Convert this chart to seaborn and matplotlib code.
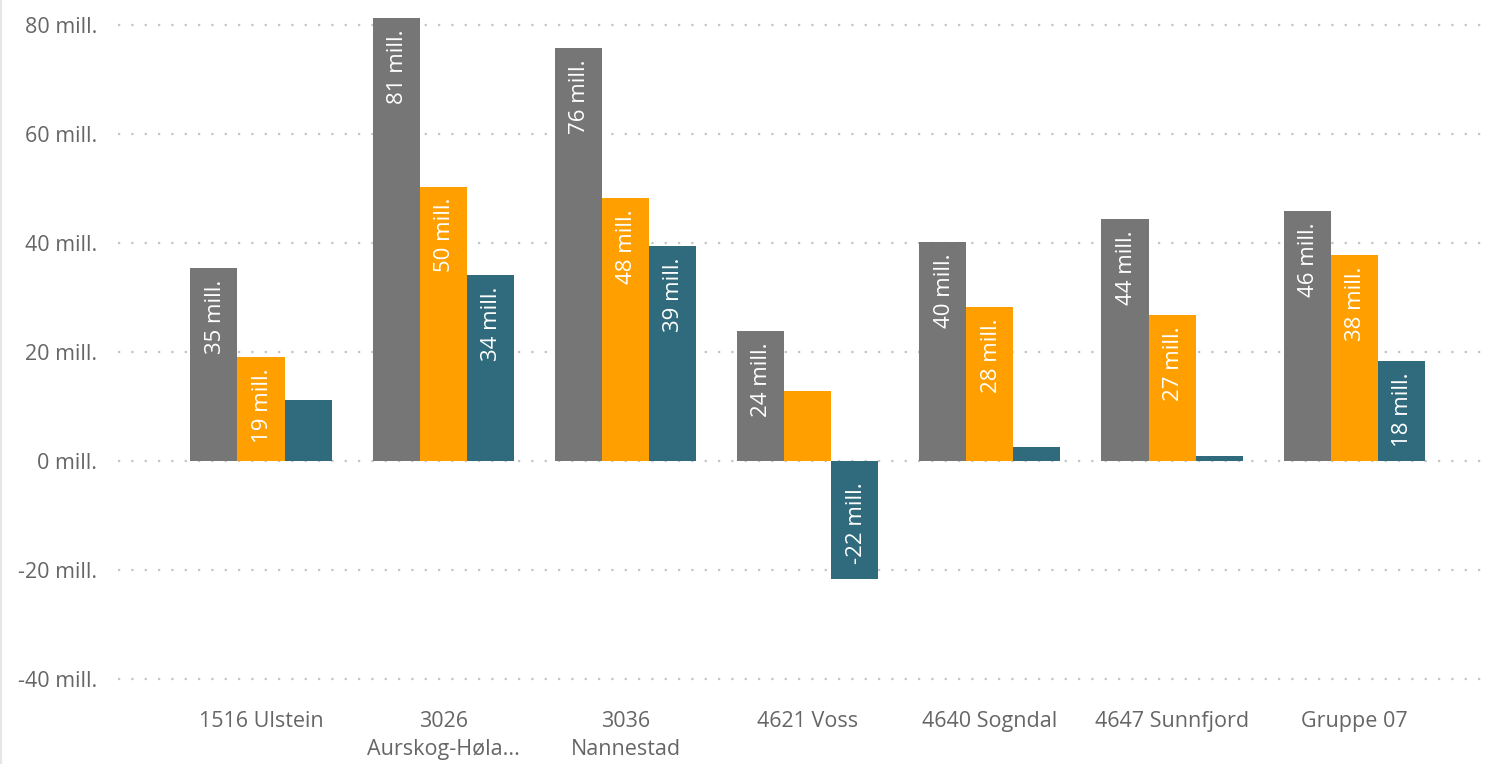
import matplotlib
matplotlib.use("Agg")
import matplotlib.pyplot as plt
import pandas as pd
import seaborn as sns
from matplotlib.lines import Line2D

categories = ["1516 Ulstein", "3026\nAurskog-Høla...", "3036\nNannestad", "4621 Voss",
              "4640 Sogndal", "4647 Sunnfjord", "Gruppe 07"]
series = ["Serie 1", "Serie 2", "Serie 3"]
serie_1 = [35.4, 81.3, 75.8, 23.9, 40.2, 44.4, 45.9]
serie_2 = [19.1, 50.3, 48.3, 12.8, 28.3, 26.8, 37.8]
serie_3 = [11.2, 34.1, 39.4, -21.6, 2.6, 0.9, 18.4]
y_ticks = [-40, -20, 0, 20, 40, 60, 80]

colors = ["#767676", "#FFA000", "#2F6B7C"]
text_color = "#666666"

rows = []
for name, values in zip(series, [serie_1, serie_2, serie_3]):
    for cat, v in zip(categories, values):
        rows.append({"kategori": cat, "serie": name, "verdi": v})
df = pd.DataFrame(rows)

sns.set_style("white")
plt.rcParams["font.family"] = ["Open Sans", "DejaVu Sans"]

fig = plt.figure(figsize=(14.94, 7.64), dpi=100)
ax = fig.add_axes([118 / 1494, 64 / 764, 1372 / 1494, 700 / 764])

sns.barplot(data=df, x="kategori", y="verdi", hue="serie", order=categories,
            hue_order=series, palette=colors, saturation=1, width=0.775,
            gap=0, errorbar=None, legend=False, ax=ax, zorder=3,
            linewidth=0, edgecolor="none")

ax.set_xlim(-0.785, 6.745)
ax.set_ylim(-43.8, 84.6)
ax.set_yticks(y_ticks)
ax.set_yticklabels([f"{t} mill." for t in y_ticks])
ax.set_xlabel("")
ax.set_ylabel("")

ax.grid(axis="y", color="#c4c4c4", linestyle=(0, (1, 5)), linewidth=1.6, zorder=0)
ax.grid(axis="x", visible=False)
ax.set_axisbelow(True)
for s in ax.spines.values():
    s.set_visible(False)
ax.tick_params(axis="both", length=0, labelsize=15.5, labelcolor=text_color)
ax.tick_params(axis="y", pad=15)
ax.tick_params(axis="x", pad=8)
for lbl in ax.get_xticklabels():
    lbl.set_linespacing(1.45)
    lbl.set_verticalalignment("top")

# verdietiketter inne i stolpene
for container, values in zip(ax.containers, [serie_1, serie_2, serie_3]):
    for bar, v in zip(container.patches, values):
        if abs(v) < 15:
            continue
        x = bar.get_x() + bar.get_width() / 2
        if v >= 0:
            ax.annotate(f"{round(v):.0f} mill.", (x, v), xytext=(1, -8),
                        textcoords="offset points", rotation=90, ha="center",
                        va="top", color="white", fontsize=16, zorder=5)
        else:
            ax.annotate(f"{round(v):.0f} mill.", (x, v), xytext=(1, 11),
                        textcoords="offset points", rotation=90, ha="center",
                        va="bottom", color="white", fontsize=16, zorder=5)

fig.add_artist(Line2D([0.0005, 0.0005], [0, 1], transform=fig.transFigure,
                      color="#e6e6e6", linewidth=1.5))

fig.savefig("out.png", dpi=100)
plt.close(fig)
